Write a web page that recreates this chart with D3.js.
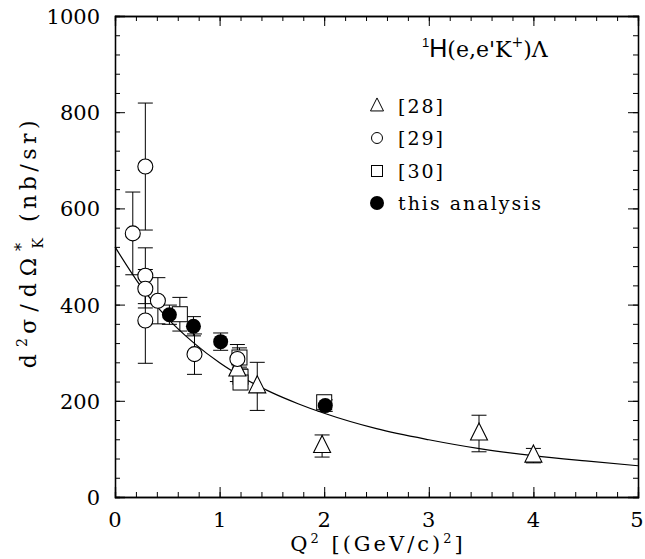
<!DOCTYPE html>
<html><head><meta charset="utf-8">
<script src="https://cdn.jsdelivr.net/npm/d3@7/dist/d3.min.js"></script>
<style>
body{margin:0;background:#fff;}
svg{display:block;}
text{font-family:"DejaVu Serif",serif;fill:#000;}
</style></head>
<body>
<svg id="c" width="645" height="559"></svg>
<script>
// ---- data ----
// [28] triangles: Q2, value, error
const ref28Q2  = [1.17, 1.36, 1.98, 3.48, 4.00];
const ref28Val = [265, 230, 106, 132, 86];
const ref28Err = [25, 50, 23, 38, 15];
// [29] open circles
const ref29Q2  = [0.17, 0.29, 0.29, 0.29, 0.29, 0.41, 0.76, 1.17];
const ref29Val = [548, 687, 460, 433, 367, 408, 297, 287];
const ref29Err = [86, 132, 58, 40, 89, 48, 42, 30];
// [30] open squares
const ref30Q2  = [0.62, 1.19, 1.20, 1.20, 2.00];
const ref30Val = [380, 290, 250, 238, 197];
const ref30Err = [35, 20, 16, 14, 14];
// this analysis, filled circles
const thisQ2  = [0.52, 0.75, 1.01, 2.01];
const thisVal = [379, 355, 323, 190];
const thisErr = [20, 20, 18, 12];
// fit curve, points
const curveQ2  = [0, 0.25, 0.5, 0.75, 1.0, 1.25, 1.5, 1.75, 2.0, 2.5, 3.0, 3.5, 4.0, 4.5, 5.0];
const curveVal = [520, 437, 372, 321, 279, 245, 217, 194, 174, 142, 119, 100, 86, 75, 65];
// ticks
const xTicks = [0, 1, 2, 3, 4, 5];
const yTicks = [0, 200, 400, 600, 800, 1000];
const legendLabels = ["[28]", "[29]", "[30]", "this analysis"];

// ---- layout ----
const svg = d3.select("#c");
const L = 115, R = 638, T = 16, B = 497;
const x = d3.scaleLinear().domain([0, 5]).range([L, R]);
const y = d3.scaleLinear().domain([0, 1000]).range([B, T]);

const mk = (q, v, e) => q.map((d, i) => ({q: d, v: v[i], e: e[i]}));
const d28 = mk(ref28Q2, ref28Val, ref28Err);
const d29 = mk(ref29Q2, ref29Val, ref29Err);
const d30 = mk(ref30Q2, ref30Val, ref30Err);
const dThis = mk(thisQ2, thisVal, thisErr);

// axes with inward ticks on all four sides
const minorX = d3.range(0, 5.001, 0.2), minorY = d3.range(0, 1000.1, 40);
function put(ax, tr){
  const g = svg.append("g").attr("transform", tr).call(ax);
  g.select(".domain").attr("stroke", "#000").attr("stroke-width", 1.3);
  g.selectAll(".tick line").attr("stroke", "#000").attr("stroke-width", 1);
  g.selectAll(".tick text").remove();
  return g;
}
put(d3.axisBottom(x).tickValues(minorX).tickSize(-5), `translate(0,${B})`);
put(d3.axisTop(x).tickValues(minorX).tickSize(-5), `translate(0,${T})`);
put(d3.axisLeft(y).tickValues(minorY).tickSize(-5), `translate(${L},0)`);
put(d3.axisRight(y).tickValues(minorY).tickSize(-5), `translate(${R},0)`);
put(d3.axisBottom(x).tickValues(xTicks).tickSize(-10), `translate(0,${B})`);
put(d3.axisTop(x).tickValues(xTicks).tickSize(-10), `translate(0,${T})`);
put(d3.axisLeft(y).tickValues(yTicks).tickSize(-10), `translate(${L},0)`);
put(d3.axisRight(y).tickValues(yTicks).tickSize(-10), `translate(${R},0)`);

// tick labels
svg.append("g").selectAll("text").data(xTicks).join("text")
  .attr("x", d => Math.min(x(d), 637)).attr("y", 527).attr("text-anchor", "middle")
  .attr("font-size", 21).text(d => d);
svg.append("g").selectAll("text").data(yTicks).join("text")
  .attr("x", 100).attr("y", d => y(d) + 8).attr("text-anchor", "end")
  .attr("font-size", 21).text(d => d);

// axis titles
const xl = svg.append("text").attr("x", 378).attr("y", 551).attr("text-anchor", "middle")
  .attr("font-size", 21).attr("letter-spacing", 3);
xl.append("tspan").text("Q");
xl.append("tspan").attr("font-size", 13).attr("dy", -8).text("2");
xl.append("tspan").attr("dy", 8).text(" [(GeV/c)");
xl.append("tspan").attr("font-size", 13).attr("dy", -8).text("2");
xl.append("tspan").attr("dy", 8).text("]");

const yl = svg.append("text").attr("transform", "translate(36,242) rotate(-90)")
  .attr("text-anchor", "middle").attr("font-size", 22).attr("letter-spacing", 4.5);
yl.append("tspan").attr("letter-spacing", 7).text("d");
yl.append("tspan").attr("font-size", 14).attr("dy", -9).text("2");
yl.append("tspan").attr("dy", 9).attr("letter-spacing", 7).text("σ/dΩ");
yl.append("tspan").attr("font-size", 16).attr("dy", -9).text("*");
yl.append("tspan").attr("font-size", 14).attr("dx", -10).attr("dy", 16).text("K");
yl.append("tspan").attr("dy", -7).text(" (nb/sr)");

// fit curve
svg.append("path").datum(curveQ2.map((q, i) => [q, curveVal[i]]))
  .attr("fill", "none").attr("stroke", "#000").attr("stroke-width", 1.2)
  .attr("d", d3.line().x(d => x(d[0])).y(d => y(d[1])).curve(d3.curveMonotoneX));

// error bars
const allErr = [...d30, ...d28, ...d29, ...dThis];
const eg = svg.append("g").attr("stroke", "#000").attr("stroke-width", 1);
allErr.forEach(d => {
  const cx = x(d.q);
  eg.append("line").attr("x1", cx).attr("x2", cx).attr("y1", y(d.v - d.e)).attr("y2", y(d.v + d.e));
  [d.v - d.e, d.v + d.e].forEach(v => eg.append("line")
    .attr("x1", cx - 7.5).attr("x2", cx + 7.5).attr("y1", y(v)).attr("y2", y(v)));
});

// markers
const tri = (s) => `M0,${-s*0.62}L${s/2},${s*0.38}L${-s/2},${s*0.38}Z`;
svg.append("g").selectAll("rect").data(d30).join("rect")
  .attr("x", d => x(d.q) - 7.5).attr("y", d => y(d.v) - 7.5).attr("width", 15).attr("height", 15)
  .attr("fill", "#fff").attr("stroke", "#000").attr("stroke-width", 1);
svg.append("g").selectAll("path").data(d28).join("path")
  .attr("transform", d => `translate(${x(d.q)},${y(d.v)})`).attr("d", tri(17))
  .attr("fill", "#fff").attr("stroke", "#000").attr("stroke-width", 1.1);
svg.append("g").selectAll("circle").data(d29).join("circle")
  .attr("cx", d => x(d.q)).attr("cy", d => y(d.v)).attr("r", 7.5)
  .attr("fill", "#fff").attr("stroke", "#000").attr("stroke-width", 1.1);
svg.append("g").selectAll("circle").data(dThis).join("circle")
  .attr("cx", d => x(d.q)).attr("cy", d => y(d.v)).attr("r", 7.5)
  .attr("fill", "#000");

// title
const tt = svg.append("text").attr("x", 422).attr("y", 57).attr("font-size", 22);
tt.append("tspan").attr("font-size", 13).attr("dy", -10).attr("font-family", "Liberation Sans").text("1");
tt.append("tspan").attr("dy", 10).attr("font-family", "Liberation Sans").attr("font-size", 25).text("H");
tt.append("tspan").text("(e,e'K");
tt.append("tspan").attr("font-size", 14).attr("dy", -10).text("+");
tt.append("tspan").attr("dy", 10).text(")Λ");

// legend
const lg = svg.append("g");
const ly = [106, 138, 171, 203];
const mx = 377;
lg.append("path").attr("transform", `translate(${mx},${ly[0]})`).attr("d", tri(13))
  .attr("fill", "none").attr("stroke", "#000");
lg.append("circle").attr("cx", mx).attr("cy", ly[1]).attr("r", 5.5).attr("fill", "none").attr("stroke", "#000");
lg.append("rect").attr("x", mx - 5.5).attr("y", ly[2] - 5.5).attr("width", 11).attr("height", 11).attr("fill", "none").attr("stroke", "#000");
lg.append("circle").attr("cx", mx).attr("cy", ly[3]).attr("r", 7).attr("fill", "#000");
lg.selectAll("text").data(legendLabels).join("text")
  .attr("x", 398).attr("y", (d, i) => ly[i] + 7).attr("font-size", 19)
  .attr("letter-spacing", 2).text(d => d);
</script>
</body></html>
